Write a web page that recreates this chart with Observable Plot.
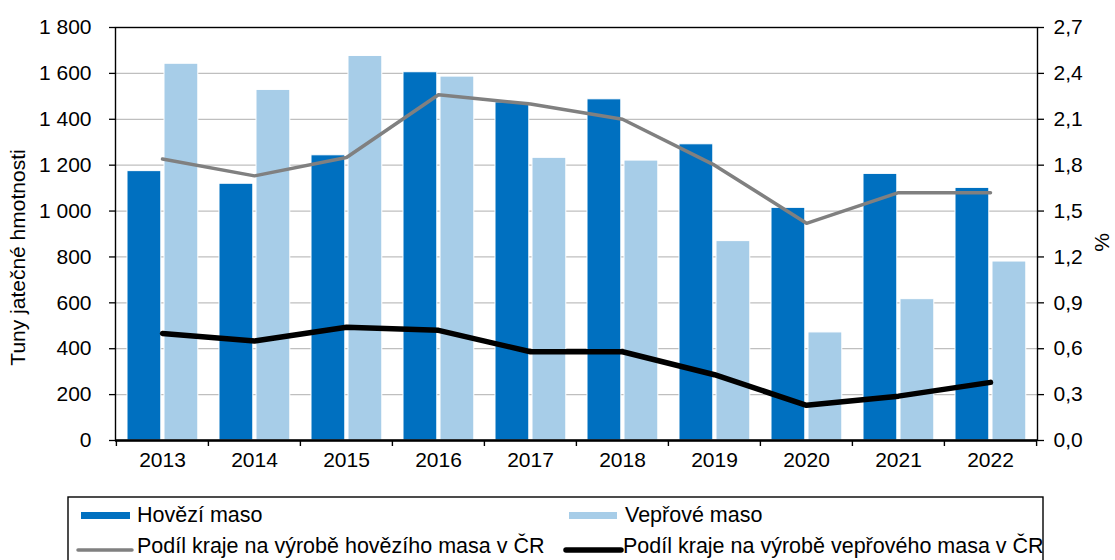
<!DOCTYPE html>
<html>
<head>
<meta charset="utf-8">
<script src="https://cdn.jsdelivr.net/npm/d3@7"></script>
<script src="https://cdn.jsdelivr.net/npm/@observablehq/plot@0.6"></script>
<style>
  html, body { margin: 0; padding: 0; background: #fff; }
  #wrap { position: relative; width: 1115px; height: 560px; overflow: hidden; font-family: "Liberation Sans", Arial, sans-serif; }
  #chart { position: absolute; left: 0; top: 0; }
  #legend { position: absolute; left: 0; top: 0; }
</style>
</head>
<body>
<div id="wrap">
  <div id="chart"></div>
  <svg id="legend" width="1115" height="560"></svg>
</div>
<script>
const years = ["2013", "2014", "2015", "2016", "2017", "2018", "2019", "2020", "2021", "2022"];
const hovezi = [1174, 1119, 1243, 1605, 1474, 1487, 1291, 1014, 1162, 1101];
const veprove = [1642, 1528, 1676, 1586, 1232, 1220, 869, 471, 616, 780];
const podilHovezi = [1.84, 1.73, 1.85, 2.26, 2.20, 2.10, 1.80, 1.42, 1.62, 1.62];
const podilVeprove = [0.70, 0.65, 0.74, 0.72, 0.58, 0.58, 0.43, 0.23, 0.29, 0.38];
const leftTicks = [0, 200, 400, 600, 800, 1000, 1200, 1400, 1600, 1800];
const rightTicks = [0, 0.3, 0.6, 0.9, 1.2, 1.5, 1.8, 2.1, 2.4, 2.7];
const seriesNames = ["Hovězí maso", "Vepřové maso", "Podíl kraje na výrobě hovězího masa v ČR", "Podíl kraje na výrobě vepřového masa v ČR"];
const leftLabel = "Tuny jatečné hmotnosti";
const rightLabel = "%";

const colDark = "#0070C0", colLight = "#A7CDE8", colGrey = "#808080", colBlack = "#000000";

const data = years.map((year, i) => ({
  year, hovezi: hovezi[i], veprove: veprove[i], ph: podilHovezi[i], pv: podilVeprove[i]
}));

const W = 1115, mL = 115, mR = 78, mT = 27, H = 480, mB = 40;
const bw = (W - mL - mR) / years.length;
const yMax = leftTicks[leftTicks.length - 1];
const k = yMax / rightTicks[rightTicks.length - 1];
const fmtL = d => d3.format(",")(d).replace(/,/g, "\u00a0");
const fmtR = d => (d / k).toFixed(1).replace(".", ",");

const plot = Plot.plot({
  width: W, height: H,
  marginLeft: mL, marginRight: mR, marginTop: mT, marginBottom: mB,
  style: { fontFamily: "'Liberation Sans', Arial, sans-serif", fontSize: "21px", color: "#000", background: "transparent" },
  x: { type: "band", domain: years, padding: 0 },
  y: { domain: [0, yMax] },
  marks: [
    Plot.gridY(leftTicks.slice(1, -1), { stroke: "#BFBFBF", strokeOpacity: 1, strokeWidth: 1.3 }),
    Plot.barY(data, { x: "year", y: "hovezi", fill: colDark, stroke: "#fff", strokeWidth: 1, insetLeft: 11, insetRight: bw - 45 }),
    Plot.barY(data, { x: "year", y: "veprove", fill: colLight, stroke: "#fff", strokeWidth: 1, insetLeft: 48, insetRight: bw - 82 }),
    Plot.line(data, { x: "year", y: d => d.ph * k, stroke: colGrey, strokeWidth: 3.5 }),
    Plot.line(data, { x: "year", y: d => d.pv * k, stroke: colBlack, strokeWidth: 5.5, strokeLinecap: "round" }),
    Plot.frame({ stroke: "#000", strokeWidth: 1.4 }),
    Plot.ruleY([0], { stroke: "#000", strokeWidth: 2.6 }),
    Plot.axisY(leftTicks, { anchor: "left", tickSize: 6, tickPadding: 18, strokeWidth: 1.3, fontSize: 21, tickFormat: fmtL, label: null }),
    Plot.axisY(rightTicks.map(v => v * k), { anchor: "right", tickSize: 6, tickPadding: 10, strokeWidth: 1.3, fontSize: 21, tickFormat: fmtR, label: null }),
    Plot.axisX({ tickSize: 0, tickPadding: 12, fontSize: 21, label: null }),
    Plot.axisX({ tickSize: 6, strokeWidth: 1.4, tickFormat: () => "", dx: -bw / 2, label: null }),
    Plot.axisX([years[years.length - 1]], { tickSize: 6, strokeWidth: 1.4, tickFormat: () => "", dx: bw / 2, label: null }),
    Plot.text([leftLabel], { text: d => d, frameAnchor: "left", textAnchor: "middle", lineAnchor: "middle", dx: -97, dy: 23.5, rotate: -90, fontSize: 21 }),
    Plot.text([rightLabel], { text: d => d, frameAnchor: "right", textAnchor: "middle", lineAnchor: "middle", dx: 65, dy: 8.5, rotate: -90, fontSize: 21 })
  ]
});
document.getElementById("chart").appendChild(plot);

// Legend box below the chart
const lg = d3.select("#legend");
lg.append("rect").attr("x", 68).attr("y", 497).attr("width", 975).attr("height", 90)
  .attr("fill", "none").attr("stroke", "#000").attr("stroke-width", 1.4);
const items = [
  { name: seriesNames[0], type: "rect", color: colDark, sx: 81, sw: 49, tx: 137, row: 0 },
  { name: seriesNames[1], type: "rect", color: colLight, sx: 569, sw: 48, tx: 625, row: 0 },
  { name: seriesNames[2], type: "line", color: colGrey, sx: 78, sw: 54, tx: 137, row: 1, lw: 3.5 },
  { name: seriesNames[3], type: "line", color: colBlack, sx: 566, sw: 55, tx: 623, row: 1, lw: 5.5 }
];
const baselines = [522, 553];
items.forEach(it => {
  const b = baselines[it.row];
  if (it.type === "rect") {
    lg.append("rect").attr("x", it.sx).attr("y", b - 10).attr("width", it.sw).attr("height", 7).attr("fill", it.color);
  } else {
    lg.append("line").attr("x1", it.sx).attr("x2", it.sx + it.sw).attr("y1", b - 3).attr("y2", b - 3)
      .attr("stroke", it.color).attr("stroke-width", it.lw).attr("stroke-linecap", "round");
  }
  lg.append("text").attr("x", it.tx).attr("y", b).text(it.name)
    .attr("font-family", "'Liberation Sans', Arial, sans-serif").attr("font-size", 21.5).attr("fill", "#000");
});
</script>
</body>
</html>
